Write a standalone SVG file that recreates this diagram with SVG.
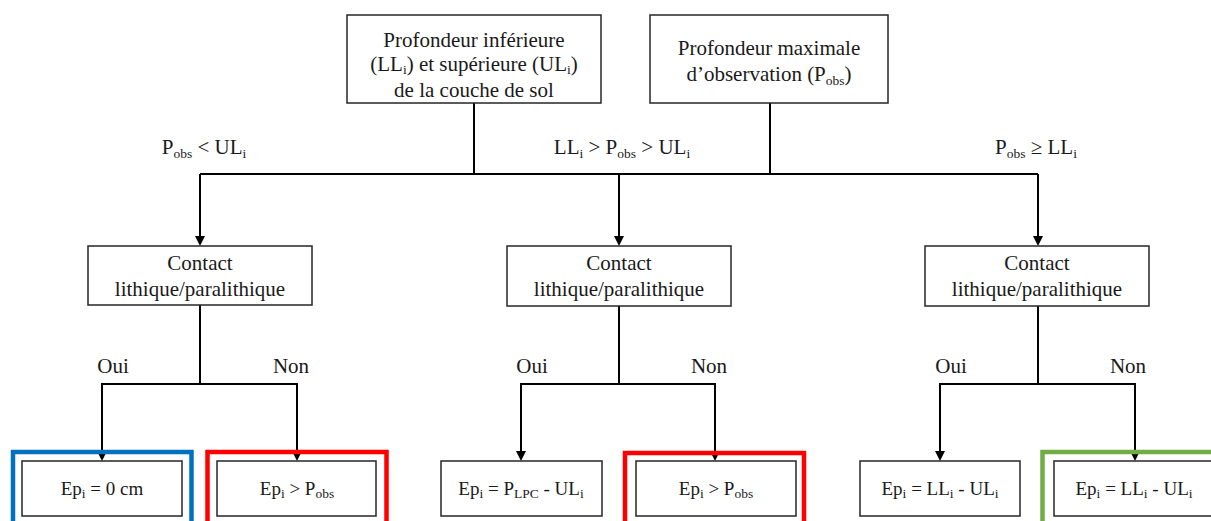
<svg xmlns="http://www.w3.org/2000/svg" width="1211" height="521" viewBox="0 0 1211 521">
<style>
.box{fill:#fff;stroke:#262626;stroke-width:1.5}
.t{font-family:"Liberation Serif","Times New Roman",serif;font-size:21px;fill:#1a1a1a;text-anchor:middle}
.s{font-size:13.5px}
.b{font-size:19px}
.c{fill:none;stroke:#000;stroke-width:2}
.hl{fill:none;stroke-width:4.5}
</style>
<rect width="1211" height="521" fill="#fff"/>

<g id="connectors">
<path class="c" d="M474,103 V174"/>
<path class="c" d="M770,103 V174"/>
<path class="c" d="M200,174 H1038"/>
<path class="c" d="M200,174 V237"/>
<path class="c" d="M619,174 V237"/>
<path class="c" d="M1038,174 V237"/>
<path d="M195,236 L205,236 L200,246 Z"/>
<path d="M614,236 L624,236 L619,246 Z"/>
<path d="M1033,236 L1043,236 L1038,246 Z"/>
<path class="c" d="M200,305 V384"/>
<path class="c" d="M102,452 V384 H297 V452"/>
<path d="M97,451 L107,451 L102,461 Z"/>
<path d="M292,451 L302,451 L297,461 Z"/>
<path class="c" d="M619,306 V384"/>
<path class="c" d="M521,452 V384 H715 V452"/>
<path d="M516,451 L526,451 L521,461 Z"/>
<path d="M710,451 L720,451 L715,461 Z"/>
<path class="c" d="M1038,306 V384"/>
<path class="c" d="M940,452 V384 H1135 V452"/>
<path d="M935,451 L945,451 L940,461 Z"/>
<path d="M1130,451 L1140,451 L1135,461 Z"/>
</g>

<g id="labels">
<text class="t" x="204" y="154">P<tspan class="s" dy="4">obs</tspan><tspan dy="-4"> &lt; UL</tspan><tspan class="s" dy="4">i</tspan></text>
<text class="t" x="622" y="154">LL<tspan class="s" dy="4">i</tspan><tspan dy="-4"> &gt; P</tspan><tspan class="s" dy="4">obs</tspan><tspan dy="-4"> &gt; UL</tspan><tspan class="s" dy="4">i</tspan></text>
<text class="t" x="1036" y="154">P<tspan class="s" dy="4">obs</tspan><tspan dy="-4"> ≥ LL</tspan><tspan class="s" dy="4">i</tspan></text>
<text class="t" x="113" y="373">Oui</text>
<text class="t" x="291" y="373">Non</text>
<text class="t" x="532" y="373">Oui</text>
<text class="t" x="709" y="373">Non</text>
<text class="t" x="951" y="373">Oui</text>
<text class="t" x="1128" y="373">Non</text>
</g>

<g id="top-left">
<rect class="box" x="347" y="15" width="254" height="88"/>
<text class="t" x="474" y="47">Profondeur  inférieure</text>
<text class="t" x="474" y="71">(LL<tspan class="s" dy="3">i</tspan><tspan dy="-3">) et supérieure (UL</tspan><tspan class="s" dy="3">i</tspan><tspan dy="-3">)</tspan></text>
<text class="t" x="474" y="97">de la couche de sol</text>
</g>

<g id="top-right">
<rect class="box" x="650" y="15" width="238" height="88"/>
<text class="t" x="769" y="55">Profondeur maximale</text>
<text class="t" x="769" y="81">d’observation (P<tspan class="s" dy="4">obs</tspan><tspan dy="-4">)</tspan></text>
</g>

<g id="contact-left">
<rect class="box" x="88" y="246" width="224" height="59"/>
<text class="t" x="200" y="270">Contact</text>
<text class="t" x="200" y="296">lithique/paralithique</text>
</g>
<g id="contact-mid">
<rect class="box" x="507" y="246" width="224" height="60"/>
<text class="t" x="619" y="270">Contact</text>
<text class="t" x="619" y="296">lithique/paralithique</text>
</g>
<g id="contact-right">
<rect class="box" x="925" y="246" width="224" height="60"/>
<text class="t" x="1037" y="270">Contact</text>
<text class="t" x="1037" y="296">lithique/paralithique</text>
</g>

<g id="res-1">
<rect class="hl" x="13" y="452" width="178.5" height="100" stroke="#0070C0"/>
<rect class="box" x="22" y="461" width="160" height="55"/>
<text class="t b" x="102" y="495">Ep<tspan class="s" dy="3">i</tspan><tspan dy="-3"> = 0 cm</tspan></text>
</g>
<g id="res-2">
<rect class="hl" x="207.5" y="452" width="179" height="100" stroke="#FF0000"/>
<rect class="box" x="217" y="461" width="159" height="55"/>
<text class="t b" x="297" y="495">Ep<tspan class="s" dy="3">i</tspan><tspan dy="-3"> &gt; P</tspan><tspan class="s" dy="3">obs</tspan></text>
</g>
<g id="res-3">
<rect class="box" x="441" y="461" width="161" height="55"/>
<text class="t b" x="521" y="495">Ep<tspan class="s" dy="3">i</tspan><tspan dy="-3"> = P</tspan><tspan class="s" dy="3">LPC</tspan><tspan dy="-3"> - UL</tspan><tspan class="s" dy="3">i</tspan></text>
</g>
<g id="res-4">
<rect class="hl" x="625" y="453" width="179" height="100" stroke="#FF0000"/>
<rect class="box" x="636" y="461" width="160" height="55"/>
<text class="t b" x="716" y="495">Ep<tspan class="s" dy="3">i</tspan><tspan dy="-3"> &gt; P</tspan><tspan class="s" dy="3">obs</tspan></text>
</g>
<g id="res-5">
<rect class="box" x="860" y="461" width="160" height="55"/>
<text class="t b" x="940" y="495">Ep<tspan class="s" dy="3">i</tspan><tspan dy="-3"> = LL</tspan><tspan class="s" dy="3">i</tspan><tspan dy="-3"> - UL</tspan><tspan class="s" dy="3">i</tspan></text>
</g>
<g id="res-6">
<rect class="hl" x="1042.5" y="452" width="200" height="100" stroke="#70AD47"/>
<rect class="box" x="1054" y="461" width="170" height="55"/>
<text class="t b" x="1134" y="495">Ep<tspan class="s" dy="3">i</tspan><tspan dy="-3"> = LL</tspan><tspan class="s" dy="3">i</tspan><tspan dy="-3"> - UL</tspan><tspan class="s" dy="3">i</tspan></text>
</g>
</svg>
